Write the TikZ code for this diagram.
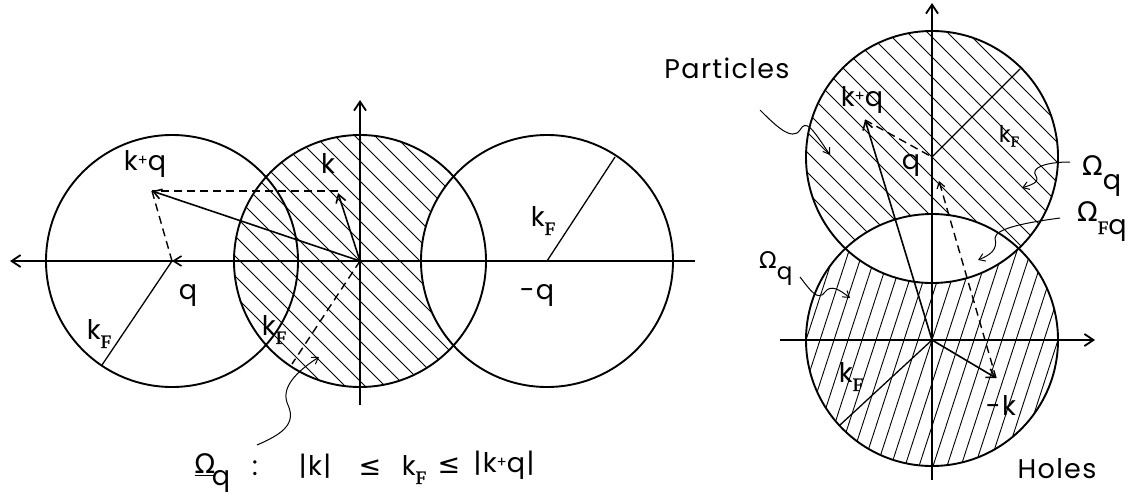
\documentclass[tikz,border=0pt]{standalone}
\usepackage{fontspec}
\setmainfont{Poppins}[LetterSpace=5]
\newfontfamily\djv{DejaVu Sans}
\newfontfamily\serF{Liberation Serif}[FakeBold=1.5]
\usetikzlibrary{arrows.meta}
\newcommand\myF[1]{\raisebox{-#1}{\serF\fontsize{19}{19}\selectfont F}}
\newcommand\myKF{k\myF{8pt}}
\newcommand\myKq{k\raisebox{5pt}{\fontsize{15}{15}\selectfont +}q}
\newcommand\myOm{{\djv Ω}}
\begin{document}
\begin{tikzpicture}[x=1pt,y=-1pt,
  circ/.style={line width=1.9pt},
  axis/.style={line width=1.9pt},
  vec/.style={line width=1.6pt,-{Straight Barb[length=8pt,width=10pt,line width=1.6pt]}},
  dsh/.style={line width=1.4pt,dash pattern=on 8pt off 5pt},
  hatchln/.style={line width=0.9pt},
  wavy/.style={line width=1pt,-{Straight Barb[length=6pt,width=8pt,line width=1pt]}},
  lbl/.style={font=\fontsize{27}{27}\selectfont, inner sep=0pt},
  slbl/.style={font=\fontsize{23}{23}\selectfont, inner sep=0pt},
]
\useasboundingbox (0,0) rectangle (1132,496);
% ---------------- left diagram coordinates
\coordinate (O1) at (360,261);
\coordinate (Q1) at (172,261);
\coordinate (MQ) at (547,261);
\coordinate (K1) at (338,193);
\coordinate (KQ1) at (152,191);
\coordinate (axL) at (10,261);
\coordinate (axR) at (695,261);
\coordinate (axT) at (360,100);
\coordinate (axB) at (360,405);
\coordinate (KFL) at (102,365);
\coordinate (KFR) at (615,157);
\coordinate (KFC) at (292,364);
% hatching of the central circle
\begin{scope}
  \clip (O1) circle[radius=126pt];
  \foreach \d in {-400,-380,...,400}
    \draw[hatchln,shift={(O1)}] ({\d-200},-200) -- ({\d+200},200);
\end{scope}
\fill[white] (MQ) circle[radius=126pt];
% circles
\draw[circ] (Q1) circle[radius=126pt];
\draw[circ] (O1) circle[radius=126pt];
\draw[circ] (MQ) circle[radius=126pt];
% axes
\draw[axis,-{Straight Barb[length=9pt,width=12pt,line width=1.8pt]}] (axR) -- (axL);
\draw[axis,-{Straight Barb[length=9pt,width=12pt,line width=1.8pt]}] (axB) -- (axT);
% vectors
\draw[vec] (O1) -- (Q1);
\draw[vec] (O1) -- (K1);
\draw[vec] (O1) -- (KQ1);
\draw[dsh] (K1 |- KQ1) -- (KQ1);
\draw[dsh] (KQ1) -- (Q1);
\draw[line width=1.3pt] (Q1) -- (KFL);
\draw[line width=1.3pt] (MQ) -- (KFR);
\draw[dsh] (O1) -- (KFC);
% labels
\node[lbl] (lkq) at (145,164) {\myKq};
\node[lbl] (lk) at (328,164) {k};
\node[lbl] (lq) at (188,295) {q};
\node[lbl] (lkf1) at (99,334) {\myKF};
\node[lbl] (lkf2) at (274,330) {\myKF};
\node[lbl] (lkf3) at (543,221) {\myKF};
\node[lbl] (lmq) at (537,295) {-q};
% bottom label and wavy arrow
\coordinate (wv1s) at (257,445);
\coordinate (wv1e) at (319,357);
\draw[wavy] (wv1s) .. controls (280,435) and (297,425) .. (288,405)
  .. controls (280,388) and (296,372) .. (wv1e);
\node[lbl] (bOm) at (205,465) {\underline{\myOm}};
\node[lbl] (bq) at (221,481) {q};
\node[lbl] (bcol) at (255,468) {:};
\node[lbl] (bk) at (315,466) {|k|};
\node[lbl] (ble1) at (370,468) {\djv ≤};
\node[lbl] (bkf) at (414,470) {\myKF};
\node[lbl] (ble2) at (449,466) {\djv ≤};
\node[lbl] (bkq) at (504,465) {|\myKq|};

% ---------------- right diagram coordinates
\coordinate (O2) at (932,340);
\coordinate (Q2) at (932,157);
\coordinate (KQ2) at (865,120);
\coordinate (MK) at (996,378);
\coordinate (QA) at (939,181);
\coordinate (ax2L) at (780,340);
\coordinate (ax2R) at (1095,340);
\coordinate (ax2T) at (932,3);
\coordinate (ax2B) at (932,480);
\coordinate (KFU) at (1020,69);
\coordinate (KFD) at (840,425);
% hatching upper circle
\begin{scope}
  \clip (Q2) circle[radius=126pt];
  \foreach \d in {-400,-380,...,400}
    \draw[hatchln,shift={(Q2)}] ({\d-200},-200) -- ({\d+200},200);
\end{scope}
% hatching lower circle
\begin{scope}
  \clip (O2) circle[radius=126pt];
  \foreach \d in {-210,-196,...,210}
    \draw[hatchln,shift={(O2)}] ({\d-65},200) -- ({\d+65},-200);
\end{scope}
\begin{scope}
  \clip (Q2) circle[radius=126pt];
  \fill[white] (O2) circle[radius=126pt];
\end{scope}
\draw[circ] (Q2) circle[radius=126pt];
\draw[circ] (O2) circle[radius=126pt];
\draw[axis,-{Straight Barb[length=9pt,width=12pt,line width=1.8pt]}] (ax2L) -- (ax2R);
\draw[axis,-{Straight Barb[length=9pt,width=12pt,line width=1.8pt]}] (ax2B) -- (ax2T);
\draw[vec] (O2) -- (KQ2);
\draw[vec] (O2) -- (MK);
\draw[dsh] (KQ2) -- (Q2);
\draw[dsh,-{Straight Barb[length=6pt,width=8pt,line width=1.2pt]}] (MK) -- (QA);
\draw[line width=1.3pt] (Q2) -- (KFU);
\draw[line width=1.3pt] (O2) -- (KFD);
% labels
\node[lbl] (rkq) at (862,100) {\myKq};
\node[lbl] (rq) at (911,165) {q};
\node[slbl] (rkf1) at (1009,136) {k\raisebox{-4pt}{\serF\fontsize{15}{15}\selectfont F}};
\node[lbl] (rkf2) at (851,377) {\myKF};
\node[lbl] (rmk) at (1001,406) {-k};
\node[lbl] (holes) at (1057,469) {Holes};
\node[lbl] (part) at (727,68) {Particles};
\node[lbl,anchor=base west] (om1) at (1082,175) {\myOm\raisebox{-14pt}{q}};
\node[lbl,anchor=base west] (om2) at (1077,221) {\myOm\raisebox{-13pt}{\serF\fontsize{19}{19}\selectfont F}\raisebox{-13pt}{q}};
\node[slbl,anchor=base west] (om3) at (759,268) {\myOm\raisebox{-11pt}{q}};
% wavy arrows
\coordinate (wpS) at (760,110);
\coordinate (wpE) at (830,155);
\draw[wavy] (wpS) .. controls (775,125) and (792,142) .. (800,130)
  .. controls (806,119) and (812,128) .. (wpE);
\coordinate (wo1S) at (1070,162);
\coordinate (wo1E) at (1022,188);
\draw[wavy] (wo1S) .. controls (1045,162) and (1030,168) .. (1036,176)
  .. controls (1040,183) and (1030,185) .. (wo1E);
\coordinate (wo2S) at (1060,218);
\coordinate (wo2E) at (978,260);
\draw[wavy] (wo2S) .. controls (1030,222) and (995,228) .. (995,238)
  .. controls (998,250) and (990,255) .. (wo2E);
\coordinate (wo3S) at (800,277);
\coordinate (wo3E) at (850,298);
\draw[wavy] (wo3S) .. controls (810,290) and (818,302) .. (825,292)
  .. controls (831,284) and (840,290) .. (wo3E);
\end{tikzpicture}
\end{document}
